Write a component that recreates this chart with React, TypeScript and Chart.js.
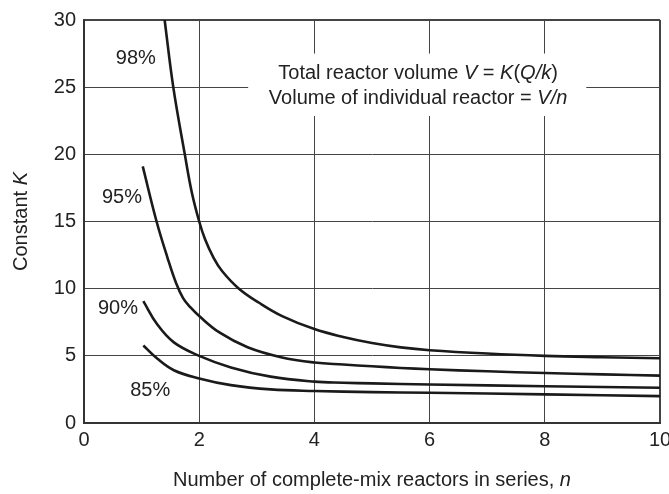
import React, { useEffect, useRef } from "react";
import { Chart, registerables } from "chart.js";

Chart.register(...registerables);

// ---- data ----
const n98 = [1.4, 1.55, 1.75, 1.87, 2.0, 2.1, 2.25, 2.4, 2.69, 3.04, 3.44, 4.0, 4.5, 5.0, 5.5, 6.0, 7.0, 8.0, 9.0, 10.0];
const k98 = [30, 25, 20, 17.2, 15, 13.7, 12.3, 11.3, 10.0, 8.95, 7.96, 6.99, 6.4, 5.95, 5.63, 5.42, 5.17, 5.0, 4.9, 4.82];

const n95 = [1.02, 1.26, 1.45, 1.6, 1.72, 1.85, 2.0, 2.35, 2.84, 3.42, 4.0, 4.5, 5.0, 5.5, 6.0, 7.0, 8.0, 9.0, 10.0];
const k95 = [19.1, 15.0, 12.3, 10.4, 9.3, 8.6, 7.96, 6.74, 5.64, 4.9, 4.5, 4.35, 4.22, 4.1, 4.0, 3.85, 3.72, 3.62, 3.53];

const n90 = [1.03, 1.27, 1.56, 2.0, 2.55, 3.24, 4.0, 4.5, 5.0, 6.0, 8.0, 10.0];
const k90 = [9.07, 7.35, 6.0, 5.0, 4.14, 3.45, 3.08, 3.0, 2.95, 2.87, 2.74, 2.62];

const n85 = [1.03, 1.27, 1.56, 2.0, 2.55, 3.24, 4.0, 5.0, 6.0, 8.0, 10.0];
const k85 = [5.77, 4.8, 3.93, 3.32, 2.82, 2.5, 2.38, 2.3, 2.25, 2.13, 2.0];

const xTicks = [0, 2, 4, 6, 8, 10];
const yTicks = [0, 5, 10, 15, 20, 25, 30];

const curveLabels = ["98%", "95%", "90%", "85%"];
const labelN = [0.9, 0.66, 0.59, 1.15];
const labelK = [27.1, 16.8, 8.5, 2.45];

type Part = [string, boolean];
const noteLine1: Part[] = [["Total reactor volume ", false], ["V", true], [" = ", false], ["K", true], ["(", false], ["Q/k", true], [")", false]];
const noteLine2: Part[] = [["Volume of individual reactor = ", false], ["V/n", true]];
const yTitle: Part[] = [["Constant ", false], ["K", true]];
const xTitle: Part[] = [["Number of complete-mix reactors in series, ", false], ["n", true]];

// ---- placement / style ----
const boxN = [2.85, 8.72];
const boxK = [22.85, 27.5];
const noteN = 5.8;
const noteK = [26.0, 24.18];

const FONT = "'Liberation Sans', Arial, Helvetica, sans-serif";
const FS = 20;
const TEXT = "#222";
const CURVE = "#1a1a1a";
const GRID = "#444";

function fontStr(italic: boolean, size: number) {
  return `${italic ? "italic " : ""}${size}px ${FONT}`;
}

function drawRich(ctx: CanvasRenderingContext2D, parts: Part[], cx: number, cy: number, size: number) {
  let total = 0;
  const widths = parts.map(([t, it]) => {
    ctx.font = fontStr(it, size);
    const w = ctx.measureText(t).width;
    total += w;
    return w;
  });
  let x = cx - total / 2;
  ctx.textAlign = "left";
  ctx.textBaseline = "middle";
  parts.forEach(([t, it], i) => {
    ctx.font = fontStr(it, size);
    ctx.fillText(t, x, cy);
    x += widths[i];
  });
}

const notesPlugin = {
  id: "notes",
  beforeDatasetsDraw(chart: any) {
    const { ctx, scales } = chart;
    const x = scales.x;
    const y = scales.y;
    ctx.save();
    const l = x.getPixelForValue(boxN[0]);
    const r = x.getPixelForValue(boxN[1]);
    const t = y.getPixelForValue(boxK[1]);
    const b = y.getPixelForValue(boxK[0]);
    ctx.fillStyle = "#fff";
    ctx.fillRect(l, t, r - l, b - t);
    ctx.fillStyle = TEXT;
    drawRich(ctx, noteLine1, x.getPixelForValue(noteN), y.getPixelForValue(noteK[0]), FS);
    drawRich(ctx, noteLine2, x.getPixelForValue(noteN), y.getPixelForValue(noteK[1]), FS);
    curveLabels.forEach((lab, i) => {
      drawRich(ctx, [[lab, false]], x.getPixelForValue(labelN[i]), y.getPixelForValue(labelK[i]), FS);
    });
    ctx.restore();
  },
  afterDraw(chart: any) {
    const { ctx, chartArea } = chart;
    ctx.save();
    ctx.fillStyle = TEXT;
    // x title
    drawRich(ctx, xTitle, (chartArea.left + chartArea.right) / 2, 480, FS);
    // y title
    ctx.translate(21.5, (chartArea.top + chartArea.bottom) / 2);
    ctx.rotate(-Math.PI / 2);
    drawRich(ctx, yTitle, 0, 0, FS);
    ctx.restore();
  },
};

function series(ns: number[], ks: number[]) {
  return ns.map((v, i) => ({ x: v, y: ks[i] }));
}

export default function App() {
  const ref = useRef<HTMLCanvasElement | null>(null);
  useEffect(() => {
    if (!ref.current) return;
    const mk = (label: string, ns: number[], ks: number[]) => ({
      label,
      data: series(ns, ks),
      borderColor: CURVE,
      borderWidth: 2.6,
      pointRadius: 0,
      fill: false,
      tension: 0.4,
    });
    const chart = new Chart(ref.current, {
      type: "line",
      data: {
        datasets: [
          mk("98%", n98, k98),
          mk("95%", n95, k95),
          mk("90%", n90, k90),
          mk("85%", n85, k85),
        ],
      },
      options: {
        responsive: false,
        animation: false,
        devicePixelRatio: 1,
        layout: { padding: { top: 16, right: 20, left: 0, bottom: 0 } },
        plugins: { legend: { display: false }, tooltip: { enabled: false } },
        scales: {
          x: {
            type: "linear",
            min: 0,
            max: 10,
            afterBuildTicks: (s: any) => {
              s.ticks = xTicks.map((v) => ({ value: v }));
            },
            afterFit: (s: any) => {
              s.height = 71;
            },
            ticks: {
              font: { family: FONT, size: FS },
              color: TEXT,
              padding: 5,
              maxRotation: 0,
              autoSkip: false,
            },
            grid: {
              color: GRID,
              lineWidth: (c: any) => (c.tick && c.tick.value === 10 ? 2 : 1),
              drawTicks: false,
            },
            border: { color: "#333", width: 2 },
          },
          y: {
            type: "linear",
            min: 0,
            max: 30,
            afterBuildTicks: (s: any) => {
              s.ticks = yTicks.map((v) => ({ value: v }));
            },
            afterFit: (s: any) => {
              s.width = 84;
            },
            ticks: {
              font: { family: FONT, size: FS },
              color: TEXT,
              padding: 8,
              autoSkip: false,
            },
            grid: {
              color: GRID,
              lineWidth: (c: any) => (c.tick && c.tick.value === 30 ? 2 : 1),
              drawTicks: false,
            },
            border: { color: "#333", width: 2 },
          },
        },
      },
      plugins: [notesPlugin],
    });
    return () => chart.destroy();
  }, []);

  return (
    <div
      style={{
        position: "fixed",
        left: 0,
        top: 0,
        width: 669,
        height: 494,
        overflow: "hidden",
        background: "#fff",
      }}
    >
      <canvas ref={ref} width={680} height={494} style={{ display: "block" }} />
    </div>
  );
}
